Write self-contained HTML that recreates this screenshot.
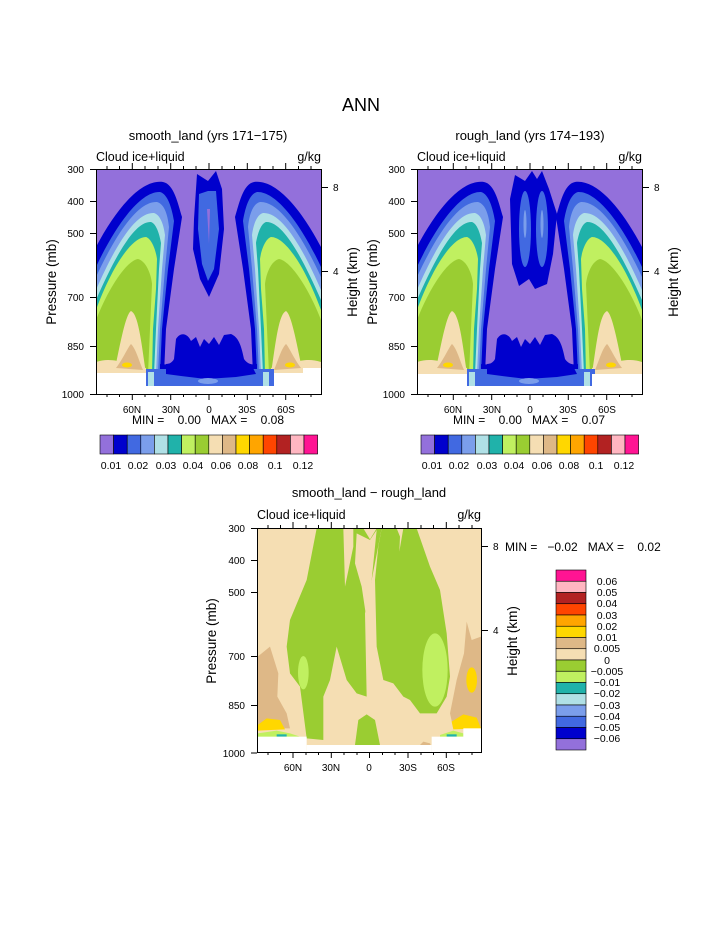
<!DOCTYPE html>
<html><head><meta charset="utf-8"><style>
html,body{margin:0;padding:0;background:#fff;}
svg{display:block;}
text{font-family:"Liberation Sans",sans-serif;fill:#000;}
</style></head><body>
<svg width="723" height="935" viewBox="0 0 723 935" xmlns="http://www.w3.org/2000/svg">
<defs>
<clipPath id="pc"><rect x="0" y="0" width="225" height="225"/></clipPath>
<g id="side">
<path fill="#0000CD" d="M0,78 C20,40 45,10 67,13 C78,15 82,35 86,48 L78,100 L70,160 L68,205 L0,205 Z"/>
<path fill="#4169E1" d="M0,98 C20,55 45,22 64,23 C72,25 76,40 78,52 L72,100 L66,160 L64,205 L0,205 Z"/>
<path fill="#7B9EEB" d="M0,108 C20,65 42,32 61,33 C69,35 72,48 73,58 L69,100 L64,160 L62,205 L0,205 Z"/>
<path fill="#B0E0E6" d="M0,121 C20,75 40,43 58,44 C65,46 68,58 69,66 L66,100 L62,160 L60,205 L0,205 Z"/>
<path fill="#20B2AA" d="M0,131 C18,90 38,52 55,53 C61,55 64,68 65,74 L63,100 L60,160 L58,205 L0,205 Z"/>
<path fill="#C0F060" d="M0,141 C15,100 35,68 50,68 C56,70 60,82 61,90 L60,120 L57,160 L56,205 L0,205 Z"/>
<path fill="#9ACD32" d="M0,151 C12,120 30,92 42,90 C50,92 55,105 56,115 L54,160 L52,205 L0,205 Z"/>
<path fill="#F5DEB3" d="M18,205 C25,170 30,145 35,142 C42,145 45,170 50,205 Z"/>
<path fill="#F5DEB3" d="M0,193 C15,188 25,193 50,199 L50,205 L0,205 Z"/>
<path fill="#DEB887" d="M20,199 C27,190 32,178 35,175 C40,180 43,192 47,201 Z"/>
<ellipse cx="31" cy="196" rx="5" ry="2.5" fill="#FFD700"/>
</g>
<g id="bottomstrip">
<path fill="#0000CD" d="M64,205 L64,195 C68,196 75,196 78,190 L80,170 C85,162 92,165 95,172 L100,168 L104,178 L108,170 L113,175 L118,168 L123,176 L128,166 L135,165 C142,168 145,175 148,190 C152,196 158,196 161,195 L161,205 Z"/>
<rect x="50" y="200" width="128" height="17" fill="#4169E1"/>
<path fill="#0000CD" d="M70,195 L95,192 L105,200 L120,196 L140,200 L155,195 L160,205 L140,208 L110,210 L85,207 L70,205 Z"/>
<rect x="52" y="203" width="6" height="14" fill="#B0E0E6"/>
<rect x="167" y="203" width="6" height="14" fill="#B0E0E6"/>
<ellipse cx="112" cy="212" rx="10" ry="3" fill="#7B9EEB"/>
</g>
</defs>

<text x="361" y="111" font-size="18" text-anchor="middle">ANN</text>

<!-- TOP LEFT -->
<text x="208" y="140" font-size="13" text-anchor="middle">smooth_land (yrs 171−175)</text>
<text x="96" y="161" font-size="12.5">Cloud ice+liquid</text>
<text x="321" y="161" font-size="12.5" text-anchor="end">g/kg</text>
<g transform="translate(96,169)" clip-path="url(#pc)">
<rect width="225" height="225" fill="#9370DB"/>
<path fill="#0000CD" d="M98,50 L101,5 L112,12 L120,2 L126,20 L128,60 L123,105 L113,128 L104,110 L97,80 Z"/>
<path fill="#4169E1" d="M103,25 L112,22 L120,22 L123,60 L118,100 L112,112 L106,95 L102,60 Z"/>
<path fill="#9370DB" d="M111,40 L114,40 L113,75 Z"/>
<use href="#side"/>
<use href="#side" transform="translate(225,0) scale(-1,1)"/>
<use href="#bottomstrip"/>
<rect x="0" y="204" width="50" height="21" fill="#fff"/>
<rect x="50" y="217" width="128" height="8" fill="#fff"/>
<rect x="178" y="204" width="47" height="21" fill="#fff"/>
<rect x="207" y="199" width="18" height="26" fill="#fff"/>
</g>
<rect x="96.5" y="169.5" width="225" height="225" fill="none" stroke="#000" stroke-width="1"/>

<!-- TOP RIGHT -->
<text x="530" y="140" font-size="13" text-anchor="middle">rough_land (yrs 174−193)</text>
<text x="417" y="161" font-size="12.5">Cloud ice+liquid</text>
<text x="642" y="161" font-size="12.5" text-anchor="end">g/kg</text>
<g transform="translate(417,169)" clip-path="url(#pc)">
<rect width="225" height="225" fill="#9370DB"/>
<path fill="#0000CD" d="M93,30 L98,6 L108,12 L115,2 L120,10 L125,2 L132,20 L140,45 L136,85 L130,115 L118,120 L112,110 L102,117 L95,95 Z"/>
<ellipse cx="108" cy="60" rx="6" ry="38" fill="#4169E1"/>
<ellipse cx="125" cy="60" rx="6" ry="38" fill="#4169E1"/>
<ellipse cx="108" cy="55" rx="1.5" ry="14" fill="#7B9EEB"/>
<ellipse cx="125" cy="55" rx="1.5" ry="14" fill="#7B9EEB"/>
<use href="#side"/>
<use href="#side" transform="translate(225,0) scale(-1,1)"/>
<use href="#bottomstrip"/>
<rect x="0" y="205" width="50" height="20" fill="#fff"/>
<rect x="50" y="217" width="128" height="8" fill="#fff"/>
<rect x="175" y="205" width="50" height="20" fill="#fff"/>
</g>
<rect x="417.5" y="169.5" width="225" height="225" fill="none" stroke="#000" stroke-width="1"/>

<!-- axes for top plots -->
<g id="axes1" stroke="#000" stroke-width="1">
<path d="M107,394v3M119.5,394v3M132.3,394v6M145,394v3M158,394v3M170.7,394v6M183.5,394v3M196,394v3M209,394v6M222,394v3M234.5,394v3M247.3,394v6M260,394v3M273,394v3M285.7,394v6M298.5,394v3M311,394v3"/>
<path d="M107,169v-3M119.5,169v-3M132.3,169v-6M145,169v-3M158,169v-3M170.7,169v-6M183.5,169v-3M196,169v-3M209,169v-6M222,169v-3M234.5,169v-3M247.3,169v-6M260,169v-3M273,169v-3M285.7,169v-6M298.5,169v-3M311,169v-3"/>
<path d="M96,169.5h-6M96,201.5h-6M96,233.5h-6M96,297.5h-6M96,346.5h-6M96,394.5h-6"/>
<path d="M321,187.5h7M321,271.5h7"/>
</g>
<use href="#axes1" transform="translate(321,0)"/>
<g font-size="10">
<g id="lab1">
<text x="84" y="173" text-anchor="end">300</text>
<text x="84" y="205" text-anchor="end">400</text>
<text x="84" y="237" text-anchor="end">500</text>
<text x="84" y="301" text-anchor="end">700</text>
<text x="84" y="350" text-anchor="end">850</text>
<text x="84" y="398" text-anchor="end">1000</text>
<text x="333" y="191">8</text>
<text x="333" y="275">4</text>
<text x="132" y="413" text-anchor="middle">60N</text>
<text x="171" y="413" text-anchor="middle">30N</text>
<text x="209" y="413" text-anchor="middle">0</text>
<text x="247" y="413" text-anchor="middle">30S</text>
<text x="286" y="413" text-anchor="middle">60S</text>
</g>
<use href="#lab1" transform="translate(321,0)"/>
</g>
<text font-size="13.5" text-anchor="middle" transform="translate(56,282) rotate(-90)">Pressure (mb)</text>
<text font-size="13.5" text-anchor="middle" transform="translate(357,282) rotate(-90)">Height (km)</text>
<text font-size="13.5" text-anchor="middle" transform="translate(377,282) rotate(-90)">Pressure (mb)</text>
<text font-size="13.5" text-anchor="middle" transform="translate(678,282) rotate(-90)">Height (km)</text>
<text x="208" y="424" font-size="12" text-anchor="middle" xml:space="preserve">MIN =    0.00   MAX =    0.08</text>
<text x="529" y="424" font-size="12" text-anchor="middle" xml:space="preserve">MIN =    0.00   MAX =    0.07</text>

<!-- horizontal colorbars -->
<g id="cb1" stroke="#000" stroke-width="0.6">
<rect x="100" y="435" width="13.6" height="19" fill="#9370DB"/>
<rect x="113.6" y="435" width="13.6" height="19" fill="#0000CD"/>
<rect x="127.2" y="435" width="13.6" height="19" fill="#4169E1"/>
<rect x="140.8" y="435" width="13.6" height="19" fill="#7B9EEB"/>
<rect x="154.4" y="435" width="13.6" height="19" fill="#B0E0E6"/>
<rect x="168" y="435" width="13.6" height="19" fill="#20B2AA"/>
<rect x="181.6" y="435" width="13.6" height="19" fill="#C0F060"/>
<rect x="195.2" y="435" width="13.6" height="19" fill="#9ACD32"/>
<rect x="208.8" y="435" width="13.6" height="19" fill="#F5DEB3"/>
<rect x="222.4" y="435" width="13.6" height="19" fill="#DEB887"/>
<rect x="236" y="435" width="13.6" height="19" fill="#FFD700"/>
<rect x="249.6" y="435" width="13.6" height="19" fill="#FFA500"/>
<rect x="263.2" y="435" width="13.6" height="19" fill="#FF4500"/>
<rect x="276.8" y="435" width="13.6" height="19" fill="#B22222"/>
<rect x="290.4" y="435" width="13.6" height="19" fill="#FFB6C1"/>
<rect x="304" y="435" width="13.6" height="19" fill="#FF1493"/>
</g>
<use href="#cb1" transform="translate(321,0)"/>
<g id="cbl" font-size="10.5" text-anchor="middle">
<text x="111" y="469">0.01</text>
<text x="138" y="469">0.02</text>
<text x="166" y="469">0.03</text>
<text x="193" y="469">0.04</text>
<text x="221" y="469">0.06</text>
<text x="248" y="469">0.08</text>
<text x="275" y="469">0.1</text>
<text x="303" y="469">0.12</text>
</g>
<use href="#cbl" transform="translate(321,0)"/>

<!-- BOTTOM PLOT -->
<text x="369" y="497" font-size="13" text-anchor="middle">smooth_land − rough_land</text>
<text x="257" y="519" font-size="12.5">Cloud ice+liquid</text>
<text x="481" y="519" font-size="12.5" text-anchor="end">g/kg</text>
<clipPath id="bc"><rect x="257" y="528" width="224" height="225"/></clipPath>
<g clip-path="url(#bc)">
<rect x="257" y="528" width="224" height="225" fill="#F5DEB3"/>
<g transform="translate(190,480) scale(0.33333)">
<path fill="#9ACD32" d="M380,145 L460,145 L465,320 L490,200 L490,145 L520,145 L540,178 L560,145 L575,145 L545,300 L525,400 L530,650 L500,640 L470,600 L440,500 L420,600 L400,650 L400,780 L350,775 L330,620 L300,580 L290,500 L300,420 L350,300 Z"/>
<path fill="#9ACD32" d="M575,145 L620,145 L630,170 L628,215 L640,145 L680,145 L720,260 L750,330 L770,460 L780,590 L770,650 L740,700 L690,700 L660,660 L640,650 L610,610 L580,600 L560,500 L555,300 L565,200 Z"/>
<path fill="#F5DEB3" d="M500,160 L540,180 L560,150 L555,200 L545,300 L530,420 L515,320 L495,250 Z"/>
<ellipse cx="735" cy="570" rx="38" ry="110" fill="#C0F060"/>
<ellipse cx="340" cy="578" rx="16" ry="50" fill="#C0F060"/>
<path fill="#9ACD32" d="M495,795 L505,720 L530,703 L555,720 L570,795 Z"/>
<path fill="#DEB887" d="M203,530 L240,500 L265,580 L262,650 L290,700 L300,745 L203,745 Z"/>
<path fill="#DEB887" d="M873,470 L845,480 L830,425 L822,520 L800,600 L780,700 L790,745 L873,745 Z"/>
<ellipse cx="845" cy="600" rx="16" ry="38" fill="#FFD700"/>
<path fill="#FFD700" d="M203,735 L230,715 L270,720 L285,748 L203,752 Z"/>
<path fill="#FFD700" d="M785,725 L820,703 L860,713 L873,745 L790,748 Z"/>
<path fill="#C0F060" d="M203,760 L260,752 L300,760 L330,770 L203,772 Z"/>
<path fill="#C0F060" d="M750,765 L790,752 L820,760 L820,770 L750,772 Z"/>
<rect x="260" y="763" width="30" height="7" fill="#20B2AA"/>
<rect x="770" y="763" width="30" height="7" fill="#20B2AA"/>
<path fill="#DEB887" d="M690,795 L700,785 L720,790 L722,795 Z"/>
<rect x="203" y="770" width="147" height="50" fill="#fff"/>
<rect x="350" y="795" width="375" height="25" fill="#fff"/>
<rect x="725" y="770" width="100" height="50" fill="#fff"/>
<rect x="820" y="745" width="55" height="75" fill="#fff"/>
</g>
</g>
<rect x="257.5" y="528.5" width="224" height="224" fill="none" stroke="#000" stroke-width="1"/>
<g stroke="#000" stroke-width="1">
<path d="M268,752v3M280.5,752v3M293,752v6M306,752v3M318.5,752v3M331.3,752v6M344,752v3M357,752v3M369.5,752v6M382.5,752v3M395,752v3M408,752v6M421,752v3M433.5,752v3M446.3,752v6M459,752v3M472,752v3"/>
<path d="M268,528v-3M280.5,528v-3M293,528v-6M306,528v-3M318.5,528v-3M331.3,528v-6M344,528v-3M357,528v-3M369.5,528v-6M382.5,528v-3M395,528v-3M408,528v-6M421,528v-3M433.5,528v-3M446.3,528v-6M459,528v-3M472,528v-3"/>
<path d="M257,528.5h-6M257,560.5h-6M257,592.5h-6M257,656.5h-6M257,705.5h-6M257,753h-6"/>
<path d="M481,546.5h7M481,630.5h7"/>
</g>
<g font-size="10">
<text x="245" y="532" text-anchor="end">300</text>
<text x="245" y="564" text-anchor="end">400</text>
<text x="245" y="596" text-anchor="end">500</text>
<text x="245" y="660" text-anchor="end">700</text>
<text x="245" y="709" text-anchor="end">850</text>
<text x="245" y="757" text-anchor="end">1000</text>
<text x="493" y="550">8</text>
<text x="493" y="634">4</text>
<text x="293" y="771" text-anchor="middle">60N</text>
<text x="331" y="771" text-anchor="middle">30N</text>
<text x="369" y="771" text-anchor="middle">0</text>
<text x="408" y="771" text-anchor="middle">30S</text>
<text x="446" y="771" text-anchor="middle">60S</text>
</g>
<text font-size="13.5" text-anchor="middle" transform="translate(216,641) rotate(-90)">Pressure (mb)</text>
<text font-size="13.5" text-anchor="middle" transform="translate(517,641) rotate(-90)">Height (km)</text>
<text x="505" y="551" font-size="12" xml:space="preserve">MIN =   −0.02   MAX =    0.02</text>

<!-- vertical colorbar -->
<g stroke="#000" stroke-width="0.6">
<rect x="556" y="570" width="30" height="11.25" fill="#FF1493"/>
<rect x="556" y="581.25" width="30" height="11.25" fill="#FFB6C1"/>
<rect x="556" y="592.5" width="30" height="11.25" fill="#B22222"/>
<rect x="556" y="603.75" width="30" height="11.25" fill="#FF4500"/>
<rect x="556" y="615" width="30" height="11.25" fill="#FFA500"/>
<rect x="556" y="626.25" width="30" height="11.25" fill="#FFD700"/>
<rect x="556" y="637.5" width="30" height="11.25" fill="#DEB887"/>
<rect x="556" y="648.75" width="30" height="11.25" fill="#F5DEB3"/>
<rect x="556" y="660" width="30" height="11.25" fill="#9ACD32"/>
<rect x="556" y="671.25" width="30" height="11.25" fill="#C0F060"/>
<rect x="556" y="682.5" width="30" height="11.25" fill="#20B2AA"/>
<rect x="556" y="693.75" width="30" height="11.25" fill="#B0E0E6"/>
<rect x="556" y="705" width="30" height="11.25" fill="#7B9EEB"/>
<rect x="556" y="716.25" width="30" height="11.25" fill="#4169E1"/>
<rect x="556" y="727.5" width="30" height="11.25" fill="#0000CD"/>
<rect x="556" y="738.75" width="30" height="11.25" fill="#9370DB"/>
</g>
<g font-size="10.5" text-anchor="middle">
<text x="607" y="585">0.06</text>
<text x="607" y="596">0.05</text>
<text x="607" y="607">0.04</text>
<text x="607" y="619">0.03</text>
<text x="607" y="630">0.02</text>
<text x="607" y="641">0.01</text>
<text x="607" y="652">0.005</text>
<text x="607" y="664">0</text>
<text x="607" y="675">−0.005</text>
<text x="607" y="686">−0.01</text>
<text x="607" y="697">−0.02</text>
<text x="607" y="709">−0.03</text>
<text x="607" y="720">−0.04</text>
<text x="607" y="731">−0.05</text>
<text x="607" y="742">−0.06</text>
</g>
</svg>
</body></html>
